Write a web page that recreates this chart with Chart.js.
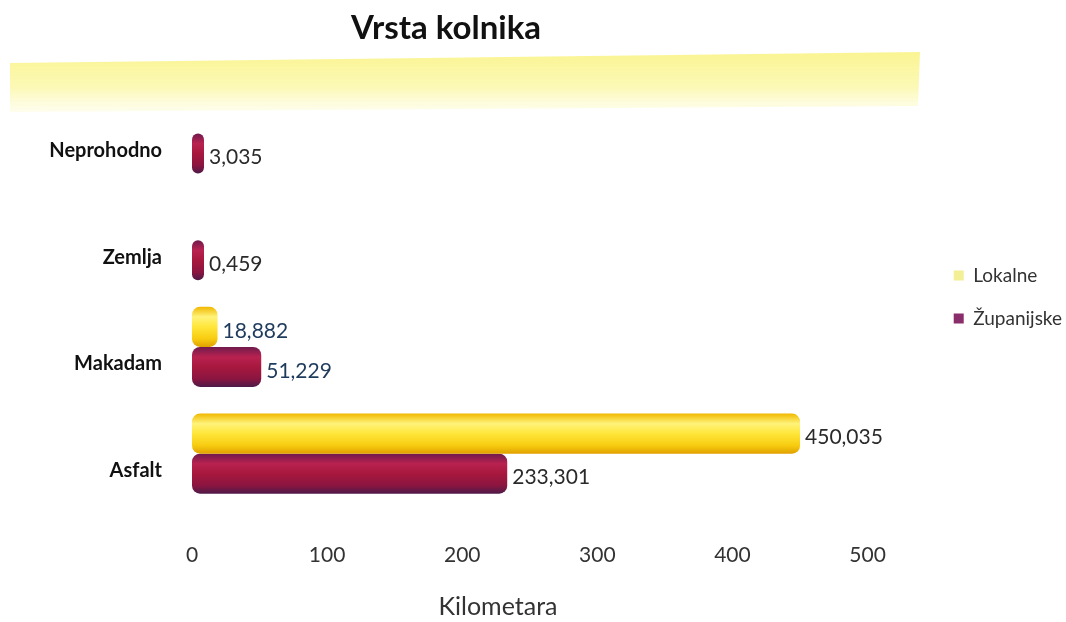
<!DOCTYPE html>
<html>
<head>
<meta charset="utf-8">
<script src="https://cdn.jsdelivr.net/npm/chart.js@4.4.1/dist/chart.umd.min.js"></script>
<style>
  html, body { margin: 0; padding: 0; background: #ffffff; }
  #wrap { width: 1066px; height: 622px; position: relative; }
</style>
</head>
<body>
<div id="wrap"><canvas id="c" width="1066" height="622"></canvas></div>
<script>
// ---- data ----
const categories = ["Neprohodno", "Zemlja", "Makadam", "Asfalt"];
const seriesNames = ["Lokalne", "Županijske"];
const lokalne = [null, null, 18.882, 450.035];
const zupanijske = [3.035, 0.459, 51.229, 233.301];
const xTickValues = [0, 100, 200, 300, 400, 500];
const chartTitle = "Vrsta kolnika";
const xAxisTitle = "Kilometara";

const FONT = "Lato, 'Open Sans', sans-serif";

function fmt(v) { return v.toFixed(3).replace('.', ','); }

// background yellow highlighter band + titles
const decorPlugin = {
  id: 'decor',
  afterLayout(chart) {
    // lift the right-hand legend to sit level with the middle of the plot, as in the original
    if (chart.legend) {
      chart.legend.top -= 54;
      chart.legend.bottom -= 54;
    }
  },
  beforeDraw(chart) {
    const ctx = chart.ctx;
    ctx.save();
    ctx.beginPath();
    ctx.moveTo(10, 63);
    ctx.lineTo(920, 52);
    ctx.lineTo(918, 106);
    ctx.lineTo(10, 112);
    ctx.closePath();
    const g = ctx.createLinearGradient(0, 52, 0, 112);
    g.addColorStop(0, 'rgba(250,244,140,0.95)');
    g.addColorStop(0.6, 'rgba(251,248,170,0.85)');
    g.addColorStop(1, 'rgba(253,252,215,0.45)');
    ctx.fillStyle = g;
    ctx.fill();
    ctx.restore();
  },
  afterDraw(chart) {
    const ctx = chart.ctx;
    ctx.save();
    ctx.fillStyle = '#111111';
    ctx.textAlign = 'center';
    ctx.textBaseline = 'middle';
    ctx.font = "bold 33px " + FONT;
    ctx.fillText(chartTitle, 446, 28);
    ctx.font = "25px " + FONT;
    ctx.fillStyle = '#333333';
    ctx.fillText(xAxisTitle, 498, 607);
    ctx.restore();
  }
};

// cylinder-like gradient for bars
const gradStops = [
  [[0, '#f0b800'], [0.25, '#fff37a'], [0.5, '#ffe63a'], [0.8, '#f7cc10'], [1, '#e0a000']],
  [[0, '#6e1a4c'], [0.25, '#b82250'], [0.5, '#a8183e'], [0.8, '#8a1540'], [1, '#4e1a48']]
];
const gradientPlugin = {
  id: 'cyl',
  beforeDatasetsDraw(chart) {
    const ctx = chart.ctx;
    chart.data.datasets.forEach((ds, di) => {
      const meta = chart.getDatasetMeta(di);
      meta.data.forEach((el) => {
        if (!el || el.skip) return;
        const p = el.getProps(['y', 'height'], true);
        if (!isFinite(p.y)) return;
        const g = ctx.createLinearGradient(0, p.y - p.height / 2, 0, p.y + p.height / 2);
        gradStops[di].forEach(s => g.addColorStop(s[0], s[1]));
        el.options = Object.assign({}, el.options, { backgroundColor: g });
      });
    });
  },
  afterDatasetsDraw(chart) {
    const ctx = chart.ctx;
    ctx.save();
    ctx.font = "21px " + FONT;
    ctx.textAlign = 'left';
    ctx.textBaseline = 'middle';
    chart.data.datasets.forEach((ds, di) => {
      const meta = chart.getDatasetMeta(di);
      meta.data.forEach((el, i) => {
        const v = ds.data[i];
        if (v === null || v === undefined) return;
        const p = el.getProps(['x', 'y'], true);
        ctx.fillStyle = (i === 2) ? '#1f3b5c' : '#2a2a2a';
        ctx.fillText(fmt(v), p.x + 5, p.y + 4);
      });
    });
    ctx.restore();
  }
};

new Chart(document.getElementById('c'), {
  type: 'bar',
  data: {
    labels: categories,
    datasets: [
      { label: seriesNames[0], data: lokalne, backgroundColor: '#f3ef96' },
      { label: seriesNames[1], data: zupanijske, backgroundColor: '#8a2d6b' }
    ]
  },
  options: {
    indexAxis: 'y',
    responsive: false,
    animation: false,
    devicePixelRatio: 1,
    layout: { padding: { top: 80, left: 10, right: -6, bottom: 0 } },
    datasets: {
      bar: {
        categoryPercentage: 0.75,
        barPercentage: 1.0,
        borderRadius: 8,
        borderSkipped: false,
        minBarLength: 12
      }
    },
    scales: {
      x: {
        min: 0,
        max: 546,
        grid: { display: false, drawTicks: false },
        border: { display: false },
        afterBuildTicks(axis) {
          axis.ticks = xTickValues.map(v => ({ value: v }));
        },
        afterFit(axis) { axis.height = 115; },
        ticks: {
          padding: 36,
          color: '#333333',
          font: { family: FONT, size: 21 },
          callback: (v) => String(v)
        }
      },
      y: {
        grid: { display: false, drawTicks: false },
        border: { display: false },
        afterFit(axis) { axis.width = 182; },
        ticks: {
          padding: 30,
          labelOffset: 17,
          color: '#111111',
          font: { family: FONT, size: 20, weight: 'bold' }
        }
      }
    },
    plugins: {
      title: { display: false },
      tooltip: { enabled: false },
      legend: {
        position: 'right',
        labels: {
          boxWidth: 10,
          boxHeight: 10,
          padding: 24,
          color: '#333333',
          font: { family: FONT, size: 19 }
        }
      }
    }
  },
  plugins: [decorPlugin, gradientPlugin]
});
</script>
</body>
</html>
